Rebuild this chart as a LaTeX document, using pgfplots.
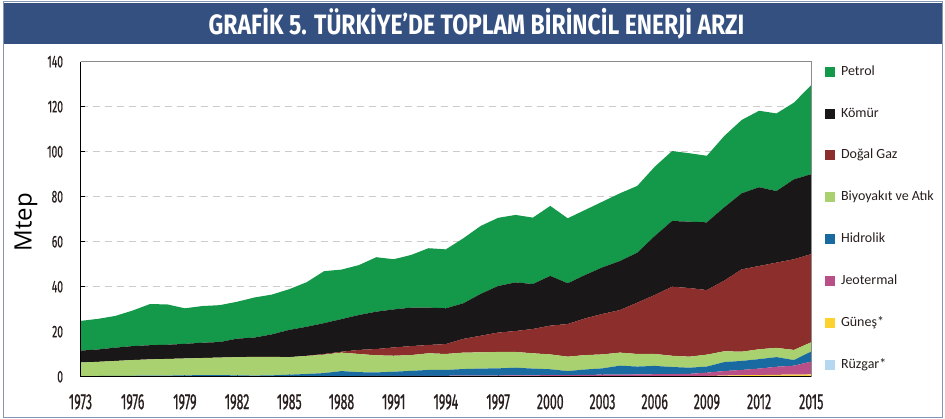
\documentclass[border=0pt]{standalone}
\usepackage{fontspec}
\usepackage{pgfplots}
\pgfplotsset{compat=1.18}
\usepackage{pgfplotstable}
\setmainfont{Carlito}
\newfontfamily\condfont[FakeStretch=0.56,FakeBold=0.6]{Fira Sans}
\newfontfamily\ycondfont[FakeStretch=0.6,FakeBold=0.6]{Fira Sans}
\newfontfamily\titlefont[FakeStretch=0.82]{Fira Sans}
\newfontfamily\labfont{Open Sans}
\definecolor{cpetrol}{RGB}{20,153,74}
\definecolor{ckomur}{RGB}{26,23,24}
\definecolor{cgaz}{RGB}{140,46,43}
\definecolor{cbio}{RGB}{169,209,111}
\definecolor{chidro}{RGB}{24,106,160}
\definecolor{cjeo}{RGB}{184,79,134}
\definecolor{cgunes}{RGB}{253,209,46}
\definecolor{cruzgar}{RGB}{181,216,241}
\definecolor{banner}{RGB}{52,80,128}
\definecolor{framec}{RGB}{130,150,180}
\definecolor{ticktext}{RGB}{40,30,30}
\pgfplotsset{
  layers/mylayers/.define layer set={axis background,axis grid,pre main,main,axis ticks,axis lines,axis tick labels,axis descriptions,axis foreground}{},
  set layers=mylayers,
}
\pgfplotstableread{
year w s g h b n c p
1973 0 0 0.1 0.2 6.0 0 5.3 13.2
1974 0 0 0.1 0.2 6.3 0 5.5 13.6
1975 0 0 0.1 0.3 6.6 0 5.9 14.1
1976 0 0 0.1 0.3 7.0 0 6.2 15.8
1977 0 0 0.1 0.4 7.2 0 6.3 18.3
1978 0 0 0.1 0.4 7.4 0 6.3 17.9
1979 0 0 0.1 0.5 7.5 0 6.5 15.8
1980 0 0 0.1 0.6 7.6 0 6.8 16.3
1981 0 0 0.1 0.6 7.8 0 6.9 16.4
1982 0 0 0.1 0.5 8.1 0 8.2 16.4
1983 0 0 0.1 0.4 8.3 0 8.6 17.8
1984 0 0 0.2 0.4 8.2 0 10.0 17.7
1985 0 0 0.2 0.7 7.8 0 12.1 18.1
1986 0 0 0.2 1.0 8.0 0.1 12.9 19.8
1987 0 0 0.2 1.4 8.2 0.3 13.7 23.1
1988 0 0 0.2 2.3 8.2 0.4 14.5 22.0
1989 0 0 0.3 1.7 8.1 1.8 15.5 22.2
1990 0 0 0.4 1.5 7.6 2.8 16.6 24.2
1991 0 0 0.4 1.8 7.1 3.7 16.9 22.3
1992 0 0 0.4 2.2 7.0 4.0 17.1 23.4
1993 0 0 0.4 2.6 7.4 3.7 16.6 26.4
1994 0 0 0.4 2.6 7.1 4.4 15.9 26.2
1995 0 0 0.5 2.9 7.3 6.1 15.8 28.9
1996 0 0 0.5 3.1 7.2 7.4 18.6 30.2
1997 0 0 0.5 3.2 7.3 8.6 20.7 30.3
1998 0 0 0.6 3.4 7.0 9.3 21.6 30.0
1999 0 0 0.6 3.0 6.8 10.8 20.0 29.5
2000 0 0 0.7 2.6 6.6 12.8 22.1 31.1
2001 0 0 0.7 1.8 6.4 14.5 18.1 28.9
2002 0 0 0.8 2.4 6.4 16.3 19.3 28.9
2003 0 0 0.9 2.8 6.2 18.0 20.7 29.2
2004 0 0 0.9 4.0 5.8 18.9 21.8 30.1
2005 0 0 1.0 3.5 5.6 22.8 22.2 29.7
2006 0 0 1.1 3.7 5.3 26.2 26.2 30.8
2007 0.05 0 1.1 3.15 5.0 30.7 29.2 31.1
2008 0.07 0 1.2 2.73 4.9 30.5 29.5 30.4
2009 0.1 0.2 1.5 2.7 5.3 28.7 30.1 29.6
2010 0.2 0.3 2.0 4.0 4.8 31.4 32.6 31.7
2011 0.3 0.35 2.35 4.0 4.1 36.6 33.8 32.6
2012 0.3 0.4 2.9 4.2 4.4 37.0 35.0 34.0
2013 0.35 0.5 3.55 4.3 4.1 37.9 31.8 34.5
2014 0.4 0.5 4.0 2.5 4.5 40.3 35.5 34.1
2015 0.4 0.6 5.7 4.5 4.1 39.2 35.5 39.6
}\datatable
\begin{document}
\begin{tikzpicture}
\path (0pt,0pt) rectangle (945pt,419pt);
\fill[banner] (3pt,375pt) rectangle (942pt,416pt);
\node[text=white, font=\titlefont\bfseries\fontsize{28}{28}\selectfont] at (476.5pt,395pt) {GRAFİK 5. TÜRKİYE’DE TOPLAM BİRİNCİL ENERJİ ARZI};
\node[rotate=90, font=\labfont\fontsize{24}{24}\selectfont, text=black] at (26pt,197pt) {Mtep};
\begin{axis}[
  name=ax, at={(80.5pt,42.3pt)}, anchor=south west,
  width=730.8pt, height=315pt, scale only axis,
  xmin=1973, xmax=2015, ymin=0, ymax=140,
  xtick={1973,1976,...,2015}, ytick={0,20,...,140},
  stack plots=y,
  axis line style={draw=none},
  tick align=inside, xtick pos=bottom, ytick pos=left,
  major tick length=5pt,
  tick style={black, line width=1pt},
  ymajorgrids,
  grid style={draw=black!20, line width=1.2pt, dash pattern=on 7pt off 5pt},
  /pgf/number format/1000 sep={},
  /pgf/number format/assume math mode=true,
  xticklabel style={font=\condfont\fontsize{22}{22}\selectfont, text=ticktext, yshift=-14pt},
  yticklabel style={font=\ycondfont\fontsize{17}{17}\selectfont, text=ticktext, xshift=-14pt},
  reverse legend,
  legend cell align=left,
  legend image code/.code={\path[#1,draw=none] (0pt,-5pt) rectangle (10pt,5pt);},
  legend style={at={(1.0188,0.9889)}, anchor=north west, draw=none, fill=none,
    inner sep=0pt, outer sep=0pt, row sep=28.9pt,
    font=\fontsize{14}{14}\selectfont,
    nodes={inner xsep=6pt, inner ysep=0pt, text height=10pt, text depth=3pt, text=ticktext}},
]
\addplot[fill=cruzgar, draw=none] table[x=year,y=w]{\datatable} \closedcycle;
\addplot[fill=cgunes, draw=none] table[x=year,y=s]{\datatable} \closedcycle;
\addplot[fill=cjeo, draw=none] table[x=year,y=g]{\datatable} \closedcycle;
\addplot[fill=chidro, draw=none] table[x=year,y=h]{\datatable} \closedcycle;
\addplot[fill=cbio, draw=none] table[x=year,y=b]{\datatable} \closedcycle;
\addplot[fill=cgaz, draw=none] table[x=year,y=n]{\datatable} \closedcycle;
\addplot[fill=ckomur, draw=none] table[x=year,y=c]{\datatable} \closedcycle;
\addplot[fill=cpetrol, draw=none] table[x=year,y=p]{\datatable} \closedcycle;
\legend{Rüzgar*,Güneş*,Jeotermal,Hidrolik,Biyoyakıt ve Atık,Doğal Gaz,Kömür,Petrol}
\end{axis}
\draw[black!45, line width=1pt] (ax.north west) -- (ax.north east) -- (ax.south east);
\draw[black, line width=1.6pt] (ax.north west) -- (ax.south west) -- (ax.south east);
\draw[framec, line width=1pt] (3pt,1pt) rectangle (942pt,417pt);
\end{tikzpicture}
\end{document}
